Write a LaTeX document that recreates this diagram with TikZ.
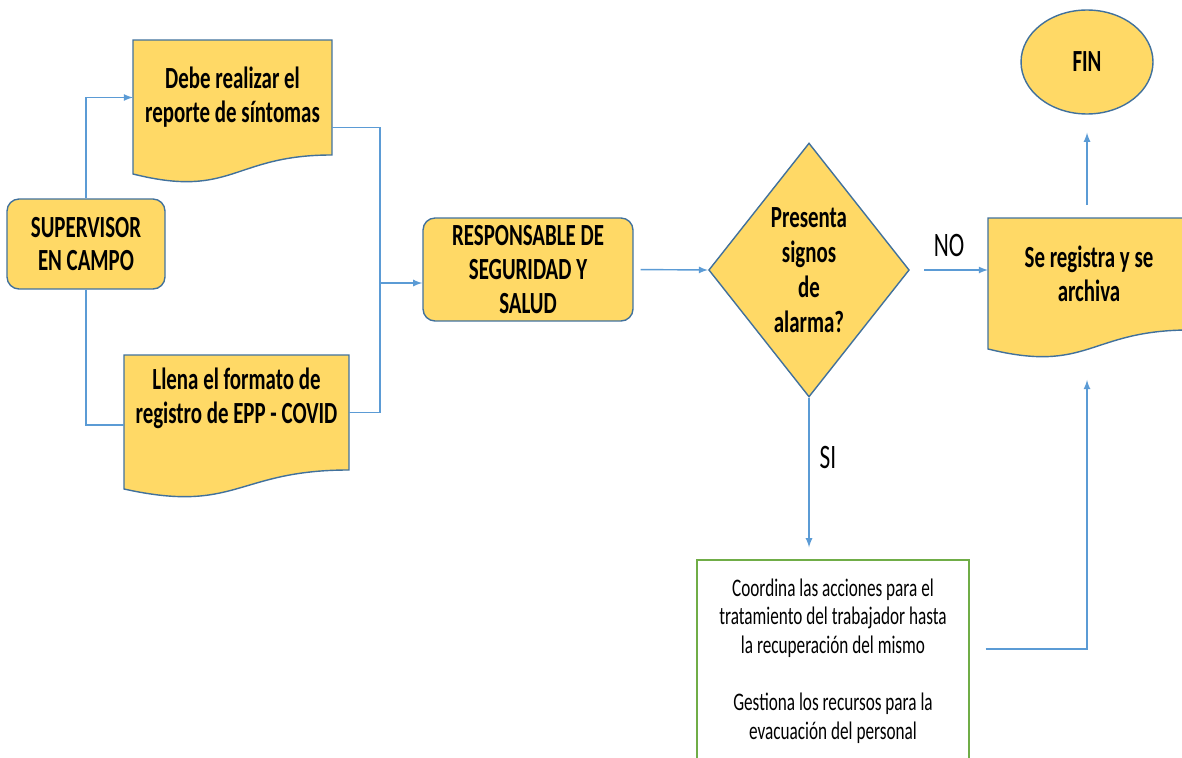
\documentclass[tikz,border=0pt]{standalone}
\usepackage{fontspec}
\setmainfont{Carlito}[FakeStretch=0.68]
\usetikzlibrary{shapes}
\usetikzlibrary{calc}
\usetikzlibrary{backgrounds}
\usepgflibrary{arrows}

\definecolor{amarillo}{HTML}{FFD966}
\definecolor{bordeazul}{HTML}{41719C}
\definecolor{lineaazul}{HTML}{5B9BD5}
\definecolor{verde}{HTML}{70AD47}

\begin{document}
\begin{tikzpicture}[x=0.02cm,y=-0.02cm,>=latex,
caja/.style={rectangle,rounded corners=2.4mm,line width=.8pt,draw=bordeazul,fill=amarillo,
  align=center,font=\bfseries\fontsize{17.5}{19.3}\selectfont},
hoja/.style={rectangle,outer sep=0pt,inner sep=0pt,align=center,font=\bfseries\fontsize{17.5}{19.3}\selectfont},
decision/.style={diamond,line width=.8pt,draw=bordeazul,fill=amarillo,inner sep=0pt,
  align=center,font=\bfseries\fontsize{17.5}{19.8}\selectfont},
fin/.style={ellipse,line width=.8pt,draw=bordeazul,fill=amarillo,inner sep=0pt,font=\bfseries\fontsize{17.5}{19.3}\selectfont},
accion/.style={rectangle,line width=.8pt,draw=verde,fill=white,align=center,font=\fontsize{14.4}{16.4}\selectfont},
etiqueta/.style={inner sep=0pt,black,font=\fontsize{19.5}{20}\selectfont}]

\useasboundingbox (0,0) rectangle (1182,757);

\node[caja,minimum width=3.16cm,minimum height=1.8cm](supervisor) at (86,244){SUPERVISOR\\EN CAMPO};

\node[hoja,minimum width=3.98cm,minimum height=2.3cm](reporte) at (232.5,97.5){Debe realizar el\\reporte de síntomas};

\node[hoja,minimum width=4.5cm,minimum height=2.3cm](formato) at (236.5,412.5){Llena el formato de\\registro de EPP - COVID\\\mbox{}};

\node[caja,minimum width=4.2cm,minimum height=2.06cm](responsable) at (528,269.5){RESPONSABLE DE\\SEGURIDAD Y\\SALUD};

\node[decision,minimum width=3.88cm,minimum height=5.08cm](signos) at (809,270){Presenta\\signos\\de\\alarma?};

\node[hoja,minimum width=4.04cm,minimum height=2.24cm](registro) at (1089,274){Se registra y se\\archiva};

\node[fin,minimum width=2.64cm,minimum height=2.08cm](final) at (1087,62){FIN};

\node[accion,minimum width=5.44cm,minimum height=4.04cm](coordina) at (833,661){Coordina las acciones para el\\tratamiento del trabajador hasta\\la recuperación del mismo\\[16pt]Gestiona los recursos para la\\evacuación del personal};

% hojas (documento)
\begin{scope}[on background layer]
\foreach \d in {reporte,formato,registro}{
\draw[line width=.8pt,draw=bordeazul,fill=amarillo] (\d.north west)--(\d.north east)--(\d.south east)
  .. controls (\d.south) and ($(\d.south)+(0,44)$) .. ($(\d.south west)+(0,19)$)--cycle;
}
\end{scope}

\coordinate (union) at (380,283);

\begin{scope}[->, lineaazul, line width=.8pt]
\draw (supervisor.north)|-(reporte.west);
\draw[-] (supervisor.south)|-([yshift=-.25cm]formato.west);
\draw[-] ([yshift=-.6cm]reporte.east)-|(union);
\draw[-] (formato.east)-|(union);
\draw (union)--(union-|responsable.west);
\draw[shorten <=.14cm] (responsable.east)--(signos.west);
\draw[shorten <=.28cm] (signos.east)--(signos.east-|registro.west) node[pos=.5, above=.26cm, etiqueta]{NO};
\draw[shorten >=.24cm] (signos.south)--(signos.south|-coordina.north) node[pos=.37, right=.2cm, etiqueta]{SI};
\draw[shorten <=.26cm, shorten >=.36cm] (final.south|-registro.north)--(final.south);
\draw[shorten <=.32cm, shorten >=1cm] ([yshift=.24cm]coordina.east)-|(final.south|-registro.south);
\end{scope}
\end{tikzpicture}
\end{document}
